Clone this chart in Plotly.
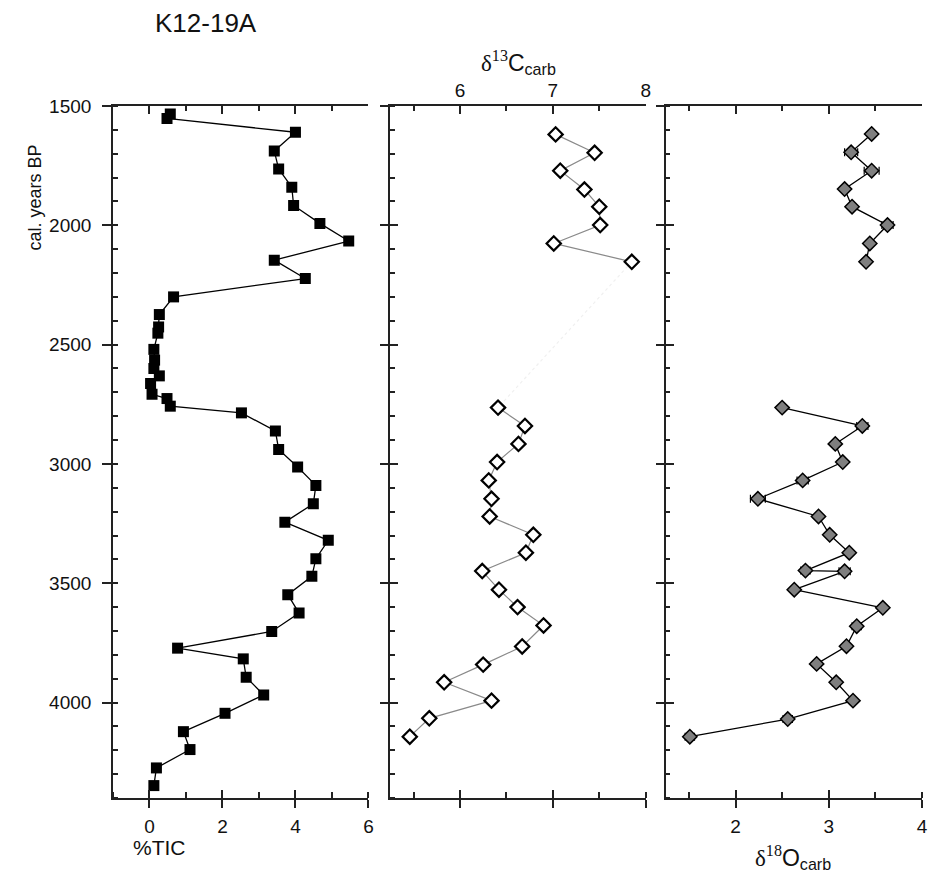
import plotly.graph_objects as go

# ---------------- data ----------------
tic_age = [1534, 1552, 1610, 1689, 1764, 1840, 1917, 1992, 2066, 2146, 2223, 2300, 2374,
           2426, 2452, 2520, 2565, 2600, 2631, 2663, 2708, 2726, 2758, 2786, 2862, 2939,
           3013, 3090, 3167, 3244, 3320, 3397, 3471, 3548, 3625, 3702, 3772, 3817, 3894,
           3968, 4045, 4122, 4197, 4274, 4348]
tic_val = [0.57, 0.48, 4.00, 3.42, 3.54, 3.90, 3.95, 4.67, 5.46, 3.42, 4.27, 0.66, 0.27,
           0.25, 0.23, 0.12, 0.14, 0.12, 0.27, 0.03, 0.07, 0.48, 0.57, 2.52, 3.45, 3.54,
           4.06, 4.56, 4.49, 3.71, 4.90, 4.56, 4.45, 3.79, 4.10, 3.35, 0.77, 2.57, 2.65,
           3.13, 2.07, 0.93, 1.11, 0.19, 0.12]

c13_age_upper = [1619, 1696, 1771, 1850, 1922, 1999, 2076, 2153]
c13_val_upper = [7.03, 7.45, 7.08, 7.34, 7.50, 7.51, 7.01, 7.85]
c13_err_upper = [0, 0, 0, 0.04, 0, 0, 0, 0]
c13_age_lower = [2764, 2841, 2916, 2992, 3069, 3146, 3220, 3297, 3372, 3449, 3527, 3600,
                 3677, 3765, 3841, 3915, 3992, 4066, 4143]
c13_val_lower = [6.41, 6.70, 6.63, 6.40, 6.31, 6.34, 6.32, 6.79, 6.71, 6.24, 6.42, 6.62,
                 6.90, 6.67, 6.25, 5.83, 6.34, 5.67, 5.46]
c13_err_lower = [0, 0, 0, 0, 0, 0, 0, 0, 0, 0, 0.04, 0, 0, 0, 0, 0, 0, 0, 0]

o18_age_upper = [1617, 1694, 1771, 1848, 1922, 1999, 2076, 2153]
o18_val_upper = [3.46, 3.24, 3.46, 3.17, 3.25, 3.63, 3.44, 3.40]
o18_err_upper = [0, 0.07, 0.08, 0, 0, 0.06, 0, 0]
o18_age_lower = [2764, 2841, 2916, 2992, 3069, 3146, 3220, 3297, 3372, 3447, 3450, 3527,
                 3603, 3680, 3764, 3838, 3915, 3992, 4069, 4143]
o18_val_lower = [2.50, 3.36, 3.07, 3.15, 2.72, 2.24, 2.89, 3.01, 3.22, 2.75, 3.17, 2.63,
                 3.58, 3.30, 3.19, 2.87, 3.08, 3.26, 2.56, 1.51]
o18_err_lower = [0, 0.06, 0, 0, 0.06, 0.08, 0, 0, 0, 0.05, 0.06, 0, 0, 0.05, 0, 0, 0.04,
                 0, 0.05, 0.05]

age_range = [4400, 1500]
tic_range = [-1, 6]
c13_range = [5.25, 8]
o18_range = [1.25, 4]
tic_ticks = [0, 2, 4, 6]
c13_ticks = [6, 7, 8]
o18_ticks = [2, 3, 4]

# ---------------- styling ----------------
SANS = "Arial, Liberation Sans, sans-serif"
SERIF = "Liberation Serif"
TICKFONT = dict(family=SANS, size=19, color="#111")
W, H = 931, 878
L, R, T, B = 113, 4, 106, 80
PW = W - L - R
PH = H - T - B


def dom(a, b):
    return [(a - L) / PW, (b - L) / PW]


d1, d2, d3 = dom(113, 370), dom(392, 649), dom(669, 927)

fig = go.Figure()

# data traces
fig.add_trace(go.Scatter(x=tic_val, y=tic_age, mode="lines+markers", xaxis="x", yaxis="y",
                         line=dict(color="black", width=1.3),
                         marker=dict(symbol="square", size=11, color="black"),
                         showlegend=False))

fig.add_trace(go.Scatter(x=[c13_val_upper[-1], c13_val_lower[0]],
                         y=[c13_age_upper[-1], c13_age_lower[0]], mode="lines",
                         xaxis="x2", yaxis="y2",
                         line=dict(color="#f0f0f0", width=1.2, dash="dot"), showlegend=False))
for xs, ys, es in [(c13_val_upper, c13_age_upper, c13_err_upper),
                   (c13_val_lower, c13_age_lower, c13_err_lower)]:
    fig.add_trace(go.Scatter(x=xs, y=ys, mode="lines+markers", xaxis="x2", yaxis="y2",
                             line=dict(color="#8a8a8a", width=1.2),
                             error_x=dict(type="data", array=es, color="#333", thickness=1,
                                          width=3, visible=True),
                             marker=dict(symbol="diamond", size=11, color="white",
                                         line=dict(color="black", width=2.2)),
                             showlegend=False))

for xs, ys, es in [(o18_val_upper, o18_age_upper, o18_err_upper),
                   (o18_val_lower, o18_age_lower, o18_err_lower)]:
    fig.add_trace(go.Scatter(x=xs, y=ys, mode="lines+markers", xaxis="x3", yaxis="y3",
                             line=dict(color="black", width=1.3),
                             error_x=dict(type="data", array=es, color="black", thickness=1.2,
                                          width=4, visible=True),
                             marker=dict(symbol="diamond", size=11, color="#7f7f7f",
                                         line=dict(color="black", width=1.5)),
                             showlegend=False))

# dummy traces so overlay axes are drawn
for xa, ya in [("x4", "y"), ("x7", "y"), ("x5", "y2"), ("x8", "y2"), ("x6", "y3"),
               ("x9", "y3"), ("x2", "y4"), ("x3", "y5")]:
    fig.add_trace(go.Scatter(x=[], y=[], xaxis=xa, yaxis=ya, showlegend=False,
                             hoverinfo="skip"))

axline = dict(showline=True, linecolor="#222", linewidth=1.6, showgrid=False, zeroline=False)


def bottom_main(rng, ticks, domain, anchor, labels=True):
    return dict(domain=domain, anchor=anchor, range=rng, tickvals=ticks,
                ticks="outside", ticklen=8, tickwidth=1.5, tickcolor="#222",
                showticklabels=labels, tickfont=TICKFONT, ticklabelstandoff=2,
                minor=dict(dtick=(ticks[1] - ticks[0]) / 2, tick0=ticks[0],
                           ticks="inside", ticklen=6, tickwidth=1.5, tickcolor="#222"),
                **axline)


def bottom_overlay(rng, ticks, base, anchor):
    return dict(overlaying=base, anchor=anchor, range=rng, tickvals=ticks, side="bottom",
                ticks="inside", ticklen=8, tickwidth=1.5, tickcolor="#222",
                showticklabels=False, showline=False, showgrid=False, zeroline=False)


def top_axis(rng, ticks, base, anchor, labels=False):
    return dict(overlaying=base, anchor=anchor, range=rng, tickvals=ticks, side="top",
                ticks="inside", ticklen=8, tickwidth=1.5, tickcolor="#222",
                showticklabels=labels, tickfont=TICKFONT,
                minor=dict(dtick=(ticks[1] - ticks[0]) / 2, tick0=ticks[0],
                           ticks="inside", ticklen=5, tickwidth=1.5, tickcolor="#222"),
                **axline)


yminor = dict(dtick=100, tick0=1500, ticks="inside", ticklen=5, tickwidth=1.5, tickcolor="#222")

fig.update_layout(
    width=W, height=H,
    margin=dict(l=L, r=R, t=T, b=B),
    paper_bgcolor="white", plot_bgcolor="white",
    font=dict(family=SANS, size=18, color="#111"),
    xaxis=bottom_main(tic_range, tic_ticks, d1, "y"),
    xaxis2=bottom_main(c13_range, c13_ticks, d2, "y2", labels=False),
    xaxis3=bottom_main(o18_range, o18_ticks, d3, "y3"),
    xaxis4=bottom_overlay(tic_range, tic_ticks, "x", "y"),
    xaxis5=bottom_overlay(c13_range, c13_ticks, "x2", "y2"),
    xaxis6=bottom_overlay(o18_range, o18_ticks, "x3", "y3"),
    xaxis7=top_axis(tic_range, tic_ticks, "x", "y"),
    xaxis8=top_axis(c13_range, c13_ticks, "x2", "y2", labels=True),
    xaxis9=top_axis(o18_range, o18_ticks, "x3", "y3"),
    yaxis=dict(domain=[0, 1], anchor="x", range=age_range, dtick=500, tick0=1500,
               ticks="outside", ticklen=9, tickwidth=1.5, tickcolor="#222",
               tickfont=TICKFONT, ticklabelstandoff=7, minor=yminor, **axline),
    yaxis2=dict(domain=[0, 1], anchor="x2", range=age_range, dtick=500, tick0=1500,
                ticks="outside", ticklen=8, tickwidth=1.5, tickcolor="#222",
                showticklabels=False, minor=yminor, **axline),
    yaxis3=dict(domain=[0, 1], anchor="x3", range=age_range, dtick=500, tick0=1500,
                ticks="outside", ticklen=8, tickwidth=1.5, tickcolor="#222",
                showticklabels=False, minor=yminor, **axline),
    yaxis4=dict(overlaying="y2", anchor="x2", range=age_range, dtick=500, tick0=1500,
                ticks="inside", ticklen=8, tickwidth=1.5, tickcolor="#222",
                showticklabels=False, showline=False, showgrid=False, zeroline=False),
    yaxis5=dict(overlaying="y3", anchor="x3", range=age_range, dtick=500, tick0=1500,
                ticks="inside", ticklen=8, tickwidth=1.5, tickcolor="#222",
                showticklabels=False, showline=False, showgrid=False, zeroline=False),
)


def px_x(p):
    return (p - L) / PW


def px_y(p):
    return (H - B - p) / PH


ann = [
    dict(text="K12-19A", x=px_x(207), y=px_y(23), font=dict(size=26)),
    dict(text="cal. years BP", x=px_x(35), y=px_y(197), textangle=-90, font=dict(size=18)),
    dict(text="%TIC", x=px_x(160), y=px_y(847), font=dict(size=21)),
    dict(text=f'<span style="font-family:{SERIF}">δ<sup>13</sup></span>C<sub>carb</sub>',
         x=px_x(521), y=px_y(62), font=dict(size=23)),
    dict(text=f'<span style="font-family:{SERIF}">δ<sup>18</sup></span>O<sub>carb</sub>',
         x=px_x(797), y=px_y(857), font=dict(size=23)),
]
for a in ann:
    fig.add_annotation(xref="paper", yref="paper", showarrow=False,
                       xanchor="center", yanchor="middle", **a)

fig.write_html("out.html")
